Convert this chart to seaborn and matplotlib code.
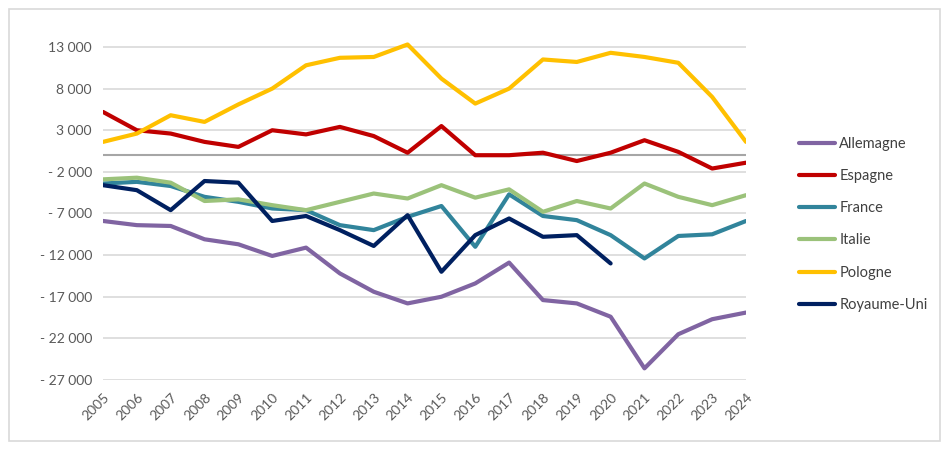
import matplotlib
matplotlib.use("Agg")
import matplotlib.pyplot as plt
import matplotlib.ticker as mticker
from matplotlib.patches import Rectangle
import seaborn as sns
import pandas as pd
import numpy as np

# values
years = list(range(2005, 2025))
allemagne = [-7900, -8400, -8500, -10100, -10700, -12100, -11100, -14200, -16400, -17800,
             -17000, -15400, -12900, -17400, -17800, -19400, -25600, -21500, -19700, -18900]
espagne = [5200, 3000, 2600, 1600, 1000, 3000, 2500, 3400, 2300, 300,
           3500, 0, 0, 300, -700, 300, 1800, 400, -1600, -900]
france = [-3400, -3200, -3700, -5000, -5600, -6400, -6600, -8400, -9000, -7400,
          -6100, -11000, -4700, -7300, -7800, -9600, -12400, -9700, -9500, -7900]
italie = [-2900, -2700, -3300, -5500, -5300, -6000, -6600, -5600, -4600, -5200,
          -3600, -5100, -4100, -6800, -5500, -6400, -3400, -5000, -6000, -4800]
pologne = [1600, 2600, 4800, 4000, 6100, 8000, 10800, 11700, 11800, 13300,
           9200, 6200, 8000, 11500, 11200, 12300, 11800, 11100, 7000, 1600]
royaume_uni = [-3600, -4200, -6600, -3100, -3300, -7900, -7300, -9000, -10900, -7200,
               -14000, -9600, -7600, -9800, -9600, -13000,
               np.nan, np.nan, np.nan, np.nan]

countries = ["Allemagne", "Espagne", "France", "Italie", "Pologne", "Royaume-Uni"]
colours = ["#8064A2", "#C00000", "#31849B", "#9BC27A", "#FFC000", "#002060"]

df = pd.DataFrame({"Année": years, "Allemagne": allemagne, "Espagne": espagne,
                   "France": france, "Italie": italie, "Pologne": pologne,
                   "Royaume-Uni": royaume_uni})
long_df = df.melt(id_vars="Année", var_name="Pays", value_name="Solde").dropna()

sns.set_style("white")
plt.rcParams['font.family'] = ['Lato', 'DejaVu Sans']

fig = plt.figure(figsize=(9.5, 4.51), dpi=100)
ax = fig.add_axes([103/950, 1 - 380/451, (746-103)/950, (380-22)/451])

sns.lineplot(data=long_df, x="Année", y="Solde", hue="Pays", hue_order=countries,
             palette=colours, linewidth=3, ax=ax)

ax.set_xlim(2005, 2024)
ax.set_ylim(-27000, 16000)
ax.set_xticks(years)
ax.set_xticklabels([str(y) for y in years], rotation=45, ha="right", rotation_mode="anchor")
ax.set_yticks(np.arange(-27000, 13001, 5000))


def fmt(v, pos):
    s = f"{abs(int(v)):,}".replace(",", " ")
    return "- " + s if v < 0 else s


ax.yaxis.set_major_formatter(mticker.FuncFormatter(fmt))
ax.tick_params(axis="both", labelsize=10, colors="#595959", length=0, pad=8)
ax.grid(axis="y", color="#D9D9D9", linewidth=1.2)
ax.axhline(0, color="#A6A6A6", linewidth=1.5, zorder=1)
for s in ax.spines.values():
    s.set_visible(False)
ax.set_xlabel("")
ax.set_ylabel("")

leg = ax.legend(loc="center left", bbox_to_anchor=(1.0, 0.435), frameon=False,
                fontsize=10.5, handlelength=2.5, handletextpad=0.3, labelspacing=1.25,
                borderaxespad=3.2)
for t in leg.get_texts():
    t.set_color("#404040")
for h in leg.get_lines():
    h.set_linewidth(3)

fig.patches.append(Rectangle((9/950, 10/451), 931/950, 432/451, transform=fig.transFigure,
                             fill=False, edgecolor="#D9D9D9", linewidth=1.2))

fig.savefig("out.png", dpi=100)
